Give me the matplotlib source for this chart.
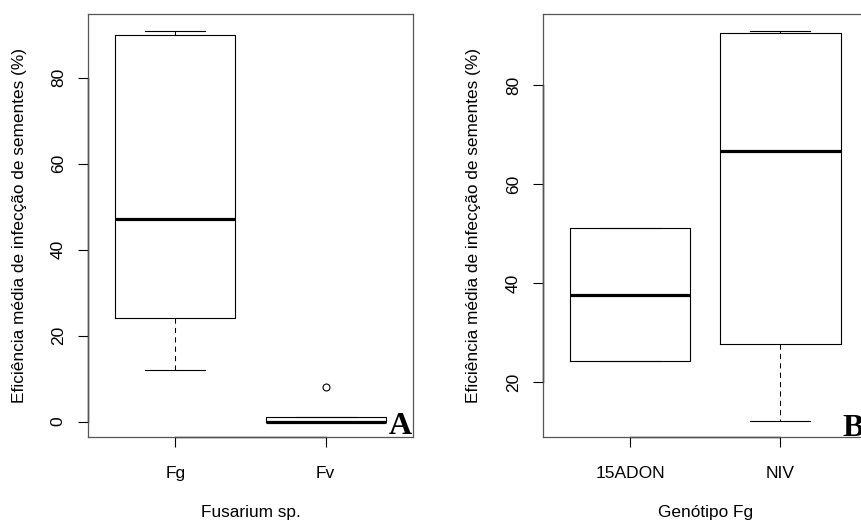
import matplotlib
matplotlib.use("Agg")
import matplotlib.pyplot as plt
from matplotlib.lines import Line2D

plt.rcParams['font.family'] = ['Liberation Sans', 'DejaVu Sans']

# Panel A: Fusarium species
species = ["Fg", "Fv"]
sp_whislo = [12.0, 0.0]
sp_q1 = [24.0, 0.0]
sp_med = [47.0, 0.0]
sp_q3 = [90.0, 1.1]
sp_whishi = [90.9, 1.1]
sp_fliers = [[], [8.1]]

# Panel B: Fg genotypes
genotypes = ["15ADON", "NIV"]
gt_whislo = [24.3, 12.1]
gt_q1 = [24.3, 27.7]
gt_med = [37.6, 66.7]
gt_q3 = [51.1, 90.5]
gt_whishi = [51.1, 91.0]
gt_fliers = [[], []]

ylabel = "Eficiência média de infecção de sementes (%)"
xlabels = ["Fusarium sp.", "Genótipo Fg"]
panel_tags = ["A", "B"]
yticks_a = [0, 20, 40, 60, 80]
yticks_b = [20, 40, 60, 80]

W, H = 862, 522
fig = plt.figure(figsize=(W / 100, H / 100), dpi=100)

def px_axes(x0, x1, ytop, ybot):
    return fig.add_axes([x0 / W, 1 - ybot / H, (x1 - x0) / W, (ybot - ytop) / H])

def draw(ax, cats, lo, q1, med, q3, hi, fl, yticks, xlabel, tag, ylim, ylab_x, tag_pos, tag_ha):
    stats = []
    for i in range(len(cats)):
        stats.append(dict(whislo=lo[i], q1=q1[i], med=med[i], q3=q3[i],
                          whishi=hi[i], fliers=fl[i], label=cats[i]))
    ax.bxp(stats, positions=[1, 2], widths=0.8, capwidths=0.4,
           boxprops=dict(color="black", linewidth=0.8),
           medianprops=dict(color="black", linewidth=2.3, solid_capstyle="butt"),
           whiskerprops=dict(color="black", linewidth=0.75, linestyle=(0, (5, 4))),
           capprops=dict(color="black", linewidth=0.8),
           flierprops=dict(marker="o", markersize=5, markerfacecolor="none",
                           markeredgecolor="black", markeredgewidth=0.8))
    ax.set_xlim(0.42, 2.58)
    ax.set_ylim(*ylim)
    ax.set_xticks([1, 2])
    ax.set_xticklabels(cats)
    ax.set_yticks(yticks)
    ax.set_yticklabels([str(t) for t in yticks], rotation=90, va="center")
    ax.tick_params(axis="both", length=7, width=0.8, labelsize=12.5, color="black")
    ax.tick_params(axis="x", pad=14)
    ax.tick_params(axis="y", pad=9)
    for s in ax.spines.values():
        s.set_color("#555555")
        s.set_linewidth(0.9)
    # R-style axis lines spanning first to last tick
    ax.add_line(Line2D([1, 2], [0, 0], transform=ax.get_xaxis_transform(),
                       color="black", linewidth=1.0, clip_on=False))
    ax.add_line(Line2D([0, 0], [yticks[0], yticks[-1]], transform=ax.get_yaxis_transform(),
                       color="black", linewidth=1.0, clip_on=False))
    ax.set_ylabel(ylabel, fontsize=12.4)
    ax.yaxis.set_label_coords(ylab_x, 0.5)
    ax.set_xlabel(xlabel, fontsize=12.4)
    ax.xaxis.set_label_coords(0.5, -0.16)
    ax.text(tag_pos[0], tag_pos[1], tag, transform=ax.transAxes, ha=tag_ha, va="baseline",
            fontsize=23, fontweight="bold", family="Liberation Serif", clip_on=False)

axA = px_axes(88, 413, 14, 437)
draw(axA, species, sp_whislo, sp_q1, sp_med, sp_q3, sp_whishi, sp_fliers,
     yticks_a, xlabels[0], panel_tags[0], (-3.6, 94.8), -0.188, (0.996, 0.006), "right")

axB = px_axes(543, 867.6, 14.3, 437.3)
draw(axB, genotypes, gt_whislo, gt_q1, gt_med, gt_q3, gt_whishi, gt_fliers,
     yticks_b, xlabels[1], panel_tags[1], (8.9, 94.27), -0.191, (0.921, 0.004), "left")

fig.savefig("out.png", dpi=100)
